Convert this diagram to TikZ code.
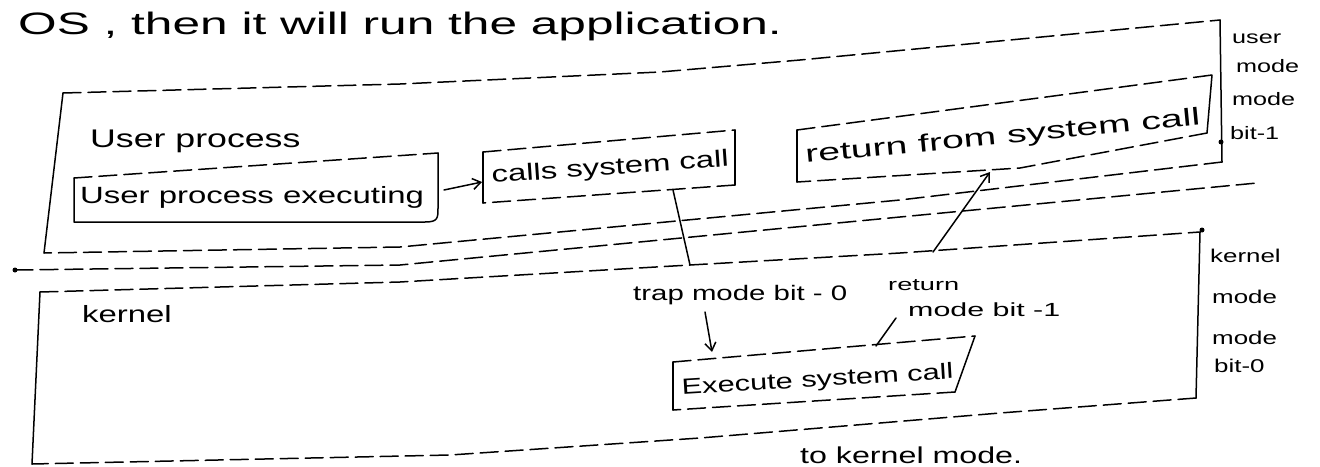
\documentclass[tikz,border=0pt]{standalone}
\usepackage{fontspec}
\setmainfont{Liberation Sans}
\newfontfamily\handA[FakeStretch=1.4]{Liberation Sans}
\newfontfamily\handB[FakeStretch=1.6]{Liberation Sans}
\usetikzlibrary{arrows.meta}
\begin{document}
\begin{tikzpicture}[x=1pt,y=-1pt,
  pen/.style={line width=1.5pt, line cap=round, line join=round},
  dsh/.style={pen, dash pattern=on 18pt off 7pt},
  arr/.style={pen, -{Straight Barb[length=8pt,width=11pt]}},
  txt/.style={inner sep=0pt, anchor=base west},
  dotm/.style={fill=black}
]
\useasboundingbox (0,0) rectangle (1320,466);
\fill[white] (0,0) rectangle (1320,466);
\clip (0,0) rectangle (1320,466);

% top sentence
\node[txt, font=\handB\fontsize{31}{35}\selectfont] (os) at (18,34) {OS , then it will run the application.};

% ---------------- user box
\draw[dsh] (63,93) -- (400,84) -- (660,72) -- (800,60) -- (1220,20);
\draw[pen] (1220,20) -- (1222,162);
\draw[dsh] (1222,162) -- (900,200) -- (400,247) -- (44,253);
\draw[pen] (44,253) -- (63,93);
\fill[dotm] (1221,142) circle (2.5);

\node[txt, font=\handA\fontsize{25.5}{30}\selectfont] (up) at (90,147) {User process};

% user process executing box
\draw[dsh] (74,178) -- (438,153);
\draw[pen] (74,178) -- (74,222) -- (425,222) .. controls (438,222) and (438,218) .. (438,208) -- (438,153);
\node[txt, font=\handA\fontsize{23.5}{28}\selectfont] (upe) at (80,203) {User process executing};

% calls system call box
\draw[dsh] (483,152) -- (735,130);
\draw[pen] (735,130) -- (735,185);
\draw[dsh] (735,185) -- (483,203);
\draw[pen] (483,203) -- (483,152);
\node[txt, font=\handA\fontsize{23.5}{28}\selectfont, rotate=4] (calls) at (492,183) {calls system call};

\coordinate (a1) at (444,190);
\coordinate (a2) at (482,182);
\draw[arr] (a1) -- (a2);

% return from system call box
\draw[dsh] (797,130) -- (1212,75);
\draw[pen] (1212,75) -- (1207,133);
\draw[dsh] (1207,133) -- (1020,168) -- (797,182);
\draw[pen] (797,182) -- (797,130);
\node[txt, font=\handB\fontsize{24.5}{29}\selectfont, rotate=5.5] (rfs) at (806,163) {return from system call};

% user mode label
\node[txt, font=\handA\fontsize{18}{22}\selectfont] (um1) at (1232,43) {user};
\node[txt, font=\handA\fontsize{18}{22}\selectfont] (um2) at (1236,72) {mode};
\node[txt, font=\handA\fontsize{18}{22}\selectfont] (um3) at (1232,105) {mode};
\node[txt, font=\handA\fontsize{18}{22}\selectfont] (um4) at (1230,139) {bit-1};

% separator
\draw[dsh] (15,270) -- (400,265) -- (900,217) -- (1257,183);
\fill[dotm] (15,270) circle (2.5);

% ---------------- kernel box
\draw[dsh] (40,292) -- (400,282) -- (690,265) -- (900,253) -- (1200,232);
\draw[pen] (1200,232) -- (1196,398);
\draw[dsh] (1196,398) -- (1000,413) -- (700,438) -- (450,455) -- (32,464);
\draw[pen] (32,464) -- (40,292);
\fill[dotm] (1202,230) circle (2.5);

\node[txt, font=\handA\fontsize{23.5}{28}\selectfont] (kn) at (82,322) {kernel};

% trap
\coordinate (t1) at (673,190);
\coordinate (t2) at (690,265);
\draw[pen] (t1) -- (t2);
\node[txt, font=\handA\fontsize{21}{25}\selectfont] (trap) at (633,300) {trap mode bit - 0};
\coordinate (ta1) at (705,312);
\coordinate (ta2) at (712,352);
\draw[arr] (ta1) -- (ta2);

% return
\node[txt, font=\handB\fontsize{17}{20}\selectfont] (ret) at (888,290) {return};
\node[txt, font=\handB\fontsize{19}{23}\selectfont] (mb) at (908,316) {mode bit -1};
\coordinate (rl1) at (876,346);
\coordinate (rl2) at (896,318);
\draw[pen] (rl1) -- (rl2);
\coordinate (r1) at (933,252);
\coordinate (r2) at (990,172);
\draw[arr] (r1) -- (r2);

% execute system call box
\draw[pen] (673,362) -- (673,410);
\draw[dsh] (673,362) -- (975,336);
\draw[pen] (975,336) -- (955,392);
\draw[dsh] (955,392) -- (673,410);
\node[txt, font=\handA\fontsize{22}{26}\selectfont, rotate=3.5] (exe) at (682,395) {Execute system call};

% kernel mode label
\node[txt, font=\handA\fontsize{18.5}{22}\selectfont] (km1) at (1210,262) {kernel};
\node[txt, font=\handA\fontsize{18.5}{22}\selectfont] (km2) at (1212,303) {mode};
\node[txt, font=\handA\fontsize{18.5}{22}\selectfont] (km3) at (1212,344) {mode};
\node[txt, font=\handA\fontsize{18.5}{22}\selectfont] (km4) at (1214,372) {bit-0};

% bottom sentence
\node[txt, font=\handA\fontsize{23}{27}\selectfont] (bot) at (800,463) {to kernel mode.};
\end{tikzpicture}
\end{document}
